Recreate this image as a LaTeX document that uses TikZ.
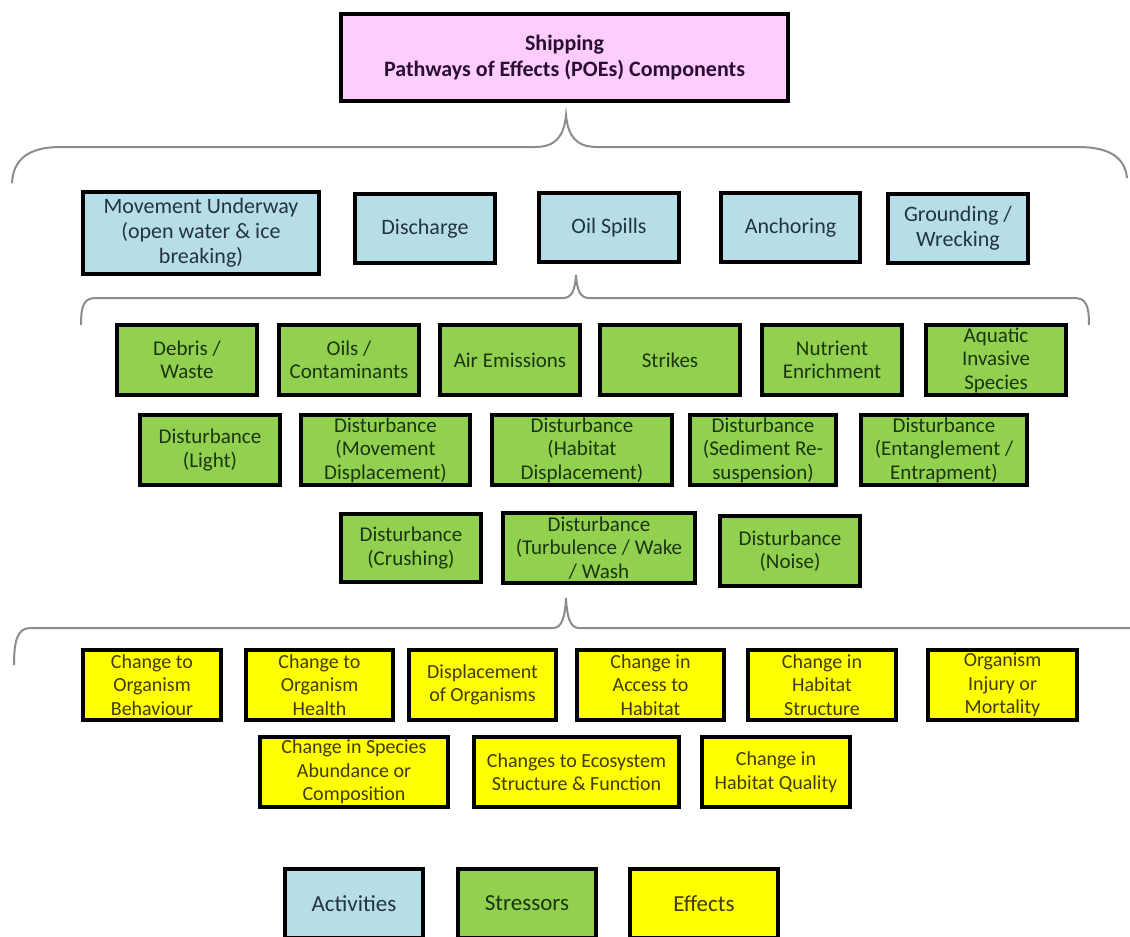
\documentclass[tikz,border=0pt]{standalone}
\usepackage{fontspec}
\setmainfont{Carlito}
\definecolor{pinkf}{HTML}{FFCCFF}
\definecolor{bluef}{HTML}{B7DEE8}
\definecolor{greenf}{HTML}{92D050}
\definecolor{yellowf}{HTML}{FFFF00}
\definecolor{bluet}{HTML}{22343E}
\definecolor{greent}{HTML}{1B360E}
\definecolor{yellowt}{HTML}{403C00}
\definecolor{pinkt}{HTML}{2A1030}
\definecolor{bracec}{HTML}{8C8C8C}
\tikzset{
 box/.style={draw=black, line width=4pt, inner sep=1pt, align=center, font=\fontsize{20}{23.5}\selectfont},
 topbox/.style={box, fill=pinkf, text=pinkt, font=\bfseries\fontsize{22}{26}\selectfont},
 actbox/.style={box, fill=bluef, text=bluet, font=\fontsize{22}{25}\selectfont},
 strbox/.style={box, fill=greenf, text=greent, font=\fontsize{21}{23.5}\selectfont},
 effbox/.style={box, fill=yellowf, text=yellowt},
 legbox/.style={font=\fontsize{23}{26}\selectfont},
 bracepath/.style={draw=bracec, line width=2pt},
}
\newcommand\bx[7]{\node[#6, minimum width={#4-#2-4}, minimum height={#5-#3-4}] (#1) at ({(#2+#4)/2},{(#3+#5)/2}) {#7};}
\begin{document}
\begin{tikzpicture}[x=1pt,y=-1pt]
\useasboundingbox (0,0) rectangle (1130,937);
\clip (0,0) rectangle (1130,937);
\fill[white] (0,0) rectangle (1130,937);
% title
\bx{top}{339}{12}{790}{103}{topbox}{Shipping\\Pathways of Effects (POEs) Components}
% braces
\coordinate (t1) at (566,115);
\coordinate (t2) at (576,275);
\coordinate (t3) at (566,598);
\draw[bracepath] (12,183) .. controls (13,160) and (28,147) .. (60,147) -- (535,147)
  .. controls (556,147) and (564,136) .. (t1) .. controls (568,136) and (576,147) .. (597,147)
  -- (1078,147) .. controls (1110,147) and (1125,158) .. (1127,178);
\draw[bracepath] (81,325) .. controls (81,305) and (84,298) .. (96,298) -- (563,298)
  .. controls (572,298) and (575,290) .. (t2) .. controls (577,290) and (580,298) .. (589,298)
  -- (1074,298) .. controls (1086,298) and (1089,305) .. (1089,325);
\draw[bracepath] (14,665) .. controls (14,642) and (17,628) .. (30,628) -- (553,628)
  .. controls (562,628) and (565,617) .. (t3) .. controls (567,617) and (570,628) .. (579,628)
  -- (1135,628) .. controls (1147,628) and (1150,640) .. (1151,665);
% activities
\bx{mov}{81}{190}{321}{276}{actbox}{Movement Underway\\(open water \& ice\\breaking)}
\bx{dis}{353}{192}{497}{265}{actbox}{Discharge}
\bx{oil}{537}{191}{681}{264}{actbox}{Oil Spills}
\bx{anc}{719}{191}{862}{264}{actbox}{Anchoring}
\bx{gro}{886}{192}{1030}{265}{actbox}{Grounding /\\Wrecking}
% stressors row 1
\bx{deb}{115}{323}{259}{397}{strbox}{Debris /\\Waste}
\bx{oils}{277}{323}{421}{397}{strbox}{Oils /\\Contaminants}
\bx{air}{438}{323}{582}{397}{strbox}{Air Emissions}
\bx{stk}{598}{323}{742}{397}{strbox}{Strikes}
\bx{nut}{760}{323}{904}{397}{strbox}{Nutrient\\Enrichment}
\bx{aqu}{924}{323}{1068}{397}{strbox}{Aquatic\\Invasive\\Species}
% stressors row 2
\bx{dl}{138}{413}{282}{487}{strbox}{Disturbance\\(Light)}
\bx{dmd}{299}{413}{472}{487}{strbox}{Disturbance\\(Movement\\Displacement)}
\bx{dhd}{490}{413}{674}{487}{strbox}{Disturbance\\(Habitat\\Displacement)}
\bx{dsr}{688}{413}{838}{487}{strbox}{Disturbance\\(Sediment Re-\\suspension)}
\bx{dee}{859}{413}{1029}{487}{strbox}{Disturbance\\(Entanglement /\\Entrapment)}
% stressors row 3
\bx{dcr}{339}{512}{483}{584}{strbox}{Disturbance\\(Crushing)}
\bx{dtw}{501}{511}{697}{585}{strbox}{Disturbance\\(Turbulence / Wake\\/ Wash}
\bx{dno}{718}{514}{862}{588}{strbox}{Disturbance\\(Noise)}
% effects row 1
\bx{e1}{81}{648}{223}{722}{effbox}{Change to\\Organism\\Behaviour}
\bx{e2}{244}{648}{395}{722}{effbox}{Change to\\Organism\\Health}
\bx{e3}{407}{648}{558}{722}{effbox}{Displacement\\of Organisms}
\bx{e4}{575}{648}{726}{722}{effbox}{Change in\\Access to\\Habitat}
\bx{e5}{746}{648}{898}{722}{effbox}{Change in\\Habitat\\Structure}
\bx{e6}{926}{648}{1079}{722}{effbox}{Organism\\Injury or\\Mortality}
% effects row 2
\bx{e7}{258}{735}{450}{809}{effbox}{Change in Species\\Abundance or\\Composition}
\bx{e8}{472}{735}{681}{809}{effbox}{Changes to Ecosystem\\Structure \& Function}
\bx{e9}{700}{735}{852}{809}{effbox}{Change in\\Habitat Quality}
% legend
\bx{la}{283}{867}{425}{940}{actbox,legbox}{Activities}
\bx{ls}{456}{867}{598}{940}{strbox,legbox}{Stressors}
\bx{le}{628}{867}{780}{940}{effbox,legbox}{Effects}
\end{tikzpicture}
\end{document}
